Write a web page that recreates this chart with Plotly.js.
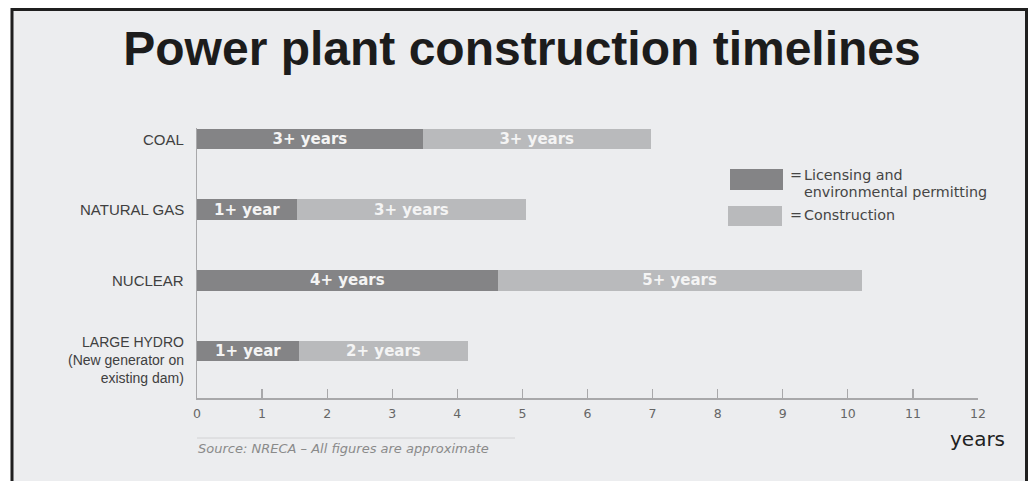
<!DOCTYPE html>
<html>
<head>
<meta charset="utf-8">
<script src="https://cdn.plot.ly/plotly-3.0.1.min.js"></script>
<style>
  html, body { margin: 0; padding: 0; background: #ffffff; }
  #chart { width: 1031px; height: 481px; }
</style>
</head>
<body>
<div id="chart"></div>
<script>
// ---- data ----
const categories = ["COAL", "NATURAL GAS", "NUCLEAR", "LARGE HYDRO<br>(New generator on<br>existing dam)"];
const licensingYears = [3.47, 1.54, 4.62, 1.57];
const constructionYears = [3.50, 3.51, 5.59, 2.59];
const licensingLabels = ["3+ years", "1+ year", "4+ years", "1+ year"];
const constructionLabels = ["3+ years", "3+ years", "5+ years", "2+ years"];
const xTicks = [0, 1, 2, 3, 4, 5, 6, 7, 8, 9, 10, 11, 12];
const legendNames = ["Licensing and", "environmental permitting", "Construction"];
const titleText = "Power plant construction timelines";
const sourceText = "Source: NRECA \u2013 All figures are approximate";
const unitText = "years";

// ---- geometry helpers (pixel -> paper) ----
const W = 1031, H = 481;
const M = {l: 197, r: 53, t: 128, b: 83};
const PW = W - M.l - M.r, PH = H - M.t - M.b;
const px = x => (x - M.l) / PW;
const py = y => (H - M.b - y) / PH;

const darkColor = "#848486";
const lightColor = "#b9babc";
const barTextFont = {family: "DejaVu Sans", size: 15, color: "#f4f4f4", weight: "bold"};

const traces = [
  {
    type: "bar", orientation: "h", name: "Licensing and environmental permitting",
    x: licensingYears, y: categories, width: 0.29,
    marker: {color: darkColor, line: {width: 0}},
    text: licensingLabels, textposition: "inside", insidetextanchor: "middle",
    constraintext: "none",
    textfont: barTextFont, insidetextfont: barTextFont, hoverinfo: "skip", cliponaxis: false
  },
  {
    type: "bar", orientation: "h", name: "Construction",
    x: constructionYears, y: categories, width: 0.29,
    marker: {color: lightColor, line: {width: 0}},
    text: constructionLabels, textposition: "inside", insidetextanchor: "middle",
    constraintext: "none",
    textfont: barTextFont, insidetextfont: barTextFont, hoverinfo: "skip", cliponaxis: false
  }
];

const annotations = [];
// category labels
categories.forEach((c, ci) => {
  const n = c.split("<br>").length;
  annotations.push({
    xref: "paper", yref: "y", x: 0, y: ci, xshift: -11,
    yshift: -(n - 1) * 4.5,
    xanchor: "right", yanchor: "middle", align: "right", showarrow: false, text: c,
    font: {family: "Liberation Sans, Arial, sans-serif", size: n > 1 ? 14 : 15, color: "#404040"}
  });
});
// legend text
const legFont = {family: "DejaVu Sans", size: 14.3, color: "#454545"};
annotations.push({xref: "paper", yref: "paper", x: px(788), y: py(175), xanchor: "left", yanchor: "middle", showarrow: false, text: "=", font: legFont});
annotations.push({xref: "paper", yref: "paper", x: px(802), y: py(175), xanchor: "left", yanchor: "middle", showarrow: false, text: legendNames[0], font: legFont});
annotations.push({xref: "paper", yref: "paper", x: px(802), y: py(192), xanchor: "left", yanchor: "middle", showarrow: false, text: legendNames[1], font: legFont});
annotations.push({xref: "paper", yref: "paper", x: px(788), y: py(215), xanchor: "left", yanchor: "middle", showarrow: false, text: "=", font: legFont});
annotations.push({xref: "paper", yref: "paper", x: px(802), y: py(215), xanchor: "left", yanchor: "middle", showarrow: false, text: legendNames[2], font: legFont});
// source
annotations.push({xref: "paper", yref: "paper", x: px(196), y: py(448), xanchor: "left", yanchor: "middle", showarrow: false,
  text: "<i>" + sourceText + "</i>", font: {family: "DejaVu Sans", size: 13, color: "#8a8a8a"}});
// unit
annotations.push({xref: "paper", yref: "paper", x: px(1007), y: py(439), xanchor: "right", yanchor: "middle", showarrow: false,
  text: unitText, font: {family: "DejaVu Sans", size: 20, color: "#222222"}});

const shapes = [
  // framed background panel
  {type: "rect", xref: "paper", yref: "paper", layer: "below",
   x0: px(12), x1: px(1026.5), y0: py(495), y1: py(9.5),
   fillcolor: "#ecedef", line: {color: "#1f1f1f", width: 3}},
  // legend swatches
  {type: "rect", xref: "paper", yref: "paper", x0: px(730), x1: px(783), y0: py(190), y1: py(169),
   fillcolor: darkColor, line: {width: 0}},
  {type: "rect", xref: "paper", yref: "paper", x0: px(728), x1: px(782), y0: py(226), y1: py(206),
   fillcolor: lightColor, line: {width: 0}},
  // rule above the source line
  {type: "line", xref: "paper", yref: "paper", x0: px(197), x1: px(515), y0: py(438), y1: py(438),
   line: {color: "#d2d2d4", width: 1}}
];

const layout = {
  width: W, height: H,
  margin: M,
  paper_bgcolor: "#ffffff",
  plot_bgcolor: "rgba(0,0,0,0)",
  barmode: "stack",
  showlegend: false,
  uniformtext: {mode: false},
  title: {
    text: "<b>" + titleText + "</b>",
    xref: "container", yref: "container", x: 522 / W, y: 1 - 48 / H,
    xanchor: "center", yanchor: "middle",
    font: {family: "Liberation Sans, Arial, sans-serif", size: 48, color: "#1c1c1c"}
  },
  xaxis: {
    range: [0, 12], tickvals: xTicks, ticktext: xTicks.map(String),
    ticks: "inside", ticklen: 9, tickwidth: 1.2, tickcolor: "#a8a8aa",
    showline: true, linecolor: "#a8a8aa", linewidth: 1.5,
    showgrid: false, zeroline: false, ticklabelstandoff: 3,
    tickfont: {family: "DejaVu Sans", size: 12.5, color: "#666666"},
    fixedrange: true
  },
  yaxis: {
    type: "category", range: [3.666, -0.156], autorange: false,
    showticklabels: false, ticks: "", showgrid: false, zeroline: false,
    showline: true, linecolor: "#a8a8aa", linewidth: 1.5, fixedrange: true
  },
  annotations: annotations,
  shapes: shapes,
  font: {family: "DejaVu Sans"}
};

Plotly.newPlot("chart", traces, layout, {displayModeBar: false, staticPlot: true});
</script>
</body>
</html>
